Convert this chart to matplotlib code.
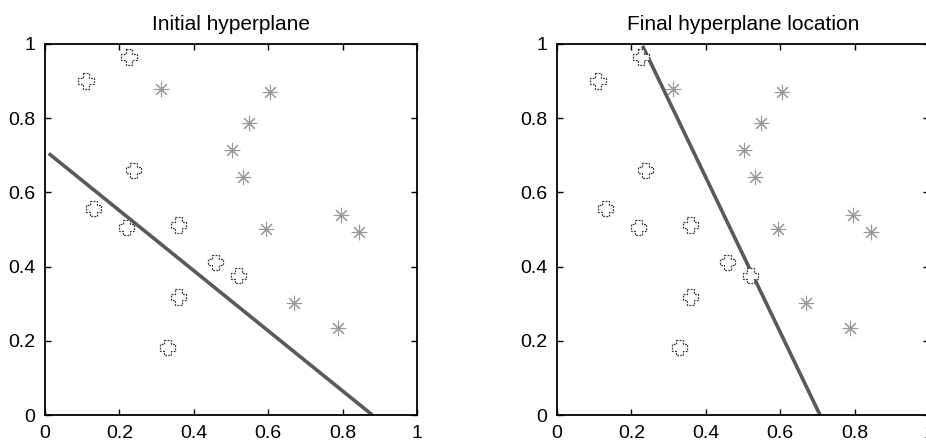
import numpy as np
import matplotlib
matplotlib.use("Agg")
import matplotlib.pyplot as plt
from matplotlib.path import Path

plt.rcParams['font.family'] = ['Liberation Sans', 'DejaVu Sans']

# class A points (open crosses)
cross_x = [0.11, 0.226, 0.238, 0.13, 0.22, 0.358, 0.458, 0.52, 0.358, 0.33]
cross_y = [0.90, 0.965, 0.66, 0.557, 0.505, 0.512, 0.412, 0.375, 0.318, 0.182]

# class B points (asterisks)
star_x = [0.312, 0.605, 0.549, 0.503, 0.532, 0.595, 0.797, 0.843, 0.670, 0.788]
star_y = [0.879, 0.870, 0.788, 0.714, 0.641, 0.502, 0.539, 0.492, 0.301, 0.235]

# hyperplane endpoints
init_line_x = [0.01, 0.88]
init_line_y = [0.705, 0.0]
final_line_x = [0.23, 0.707]
final_line_y = [0.995, 0.0]

titles = ["Initial hyperplane", "Final hyperplane location"]
ticks = [0, 0.2, 0.4, 0.6, 0.8, 1]
tick_labels = ["0", "0.2", "0.4", "0.6", "0.8", "1"]

# fat plus marker
a, b = 0.22, 0.5
plus_verts = [(-a, b), (a, b), (a, a), (b, a), (b, -a), (a, -a), (a, -b),
              (-a, -b), (-a, -a), (-b, -a), (-b, a), (-a, a), (-a, b)]
fat_plus = Path(plus_verts, closed=True)

fig = plt.figure(figsize=(9.26, 4.45), dpi=100)
W, H = 926, 445
ax1 = fig.add_axes([45 / W, 30 / H, 372 / W, 371 / H])
ax2 = fig.add_axes([557 / W, 30 / H, 372 / W, 371 / H])

lines = [(init_line_x, init_line_y), (final_line_x, final_line_y)]

for ax, title, (lx, ly) in zip([ax1, ax2], titles, lines):
    ax.plot(lx, ly, color='#5a5a5a', linewidth=2.6, solid_capstyle='butt', zorder=2)
    ax.scatter(cross_x, cross_y, marker=fat_plus, s=120, facecolor='white',
               edgecolor='#3c3c3c', linewidths=0.9, linestyle=(0, (1.5, 1)), zorder=3)
    ax.scatter(star_x, star_y, marker=(8, 2, 0), s=110, color='#999999',
               linewidths=0.8, zorder=3)
    ax.set_xlim(0, 1)
    ax.set_ylim(0, 1)
    ax.set_xticks(ticks)
    ax.set_xticklabels(tick_labels)
    ax.set_yticks(ticks)
    ax.set_yticklabels(tick_labels)
    ax.tick_params(direction='in', top=True, right=True, length=4, width=1,
                   labelsize=14, pad=7)
    for s in ax.spines.values():
        s.set_linewidth(1.3)
    ax.set_title(title, fontsize=15, pad=10)

fig.savefig("out.png", dpi=100)
